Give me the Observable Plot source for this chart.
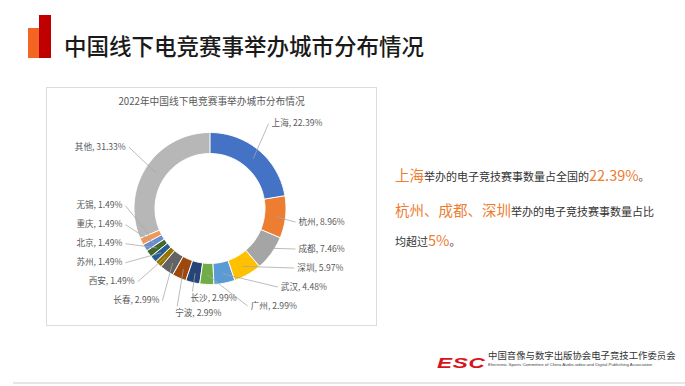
<!DOCTYPE html>
<html><head><meta charset="utf-8">
<script src="https://cdn.jsdelivr.net/npm/d3@7"></script>
<script src="https://cdn.jsdelivr.net/npm/@observablehq/plot@0.6"></script>
<style>
html,body{margin:0;padding:0;background:#fff;}
body{width:685px;height:386px;position:relative;overflow:hidden;font-family:"Noto Sans CJK SC","Noto Sans",sans-serif;}
.abs{position:absolute;white-space:nowrap;}
.o{color:#ED7D31;font-size:14.5px;}
.d{color:#333;font-size:11px;}
.rt{line-height:20px;}
</style></head><body>
<div class="abs" style="left:28px;top:28px;width:12px;height:30px;background:#F26522"></div>
<div class="abs" style="left:39px;top:15px;width:12px;height:43px;background:#C00000"></div>
<div class="abs" id="mainTitle" style="left:64px;top:33px;font-size:22.5px;line-height:24px;color:#1a1a1a;font-weight:500;"></div>

<div class="abs" style="left:46px;top:87px;width:331px;height:239px;border:1px solid #dcdcdc;box-sizing:border-box;"></div>
<div class="abs" id="chartTitle" style="left:47px;top:94px;width:329px;text-align:center;font-size:9.7px;line-height:14px;color:#595959;"></div>
<div class="abs" id="chart" style="left:47px;top:88px;"></div>

<div class="abs rt" id="line1" style="left:395px;top:164px;"></div>
<div class="abs rt" id="line2" style="left:395px;top:199px;"></div>
<div class="abs rt" id="line3" style="left:395px;top:229px;"></div>

<div class="abs" style="left:437px;top:349px;width:48px;height:16px;overflow:visible;">
  <span style="display:inline-block;font-family:'Liberation Sans',sans-serif;font-weight:bold;font-style:italic;font-size:15px;line-height:16px;color:#D7141A;transform:scaleX(1.5);transform-origin:left center;letter-spacing:0.5px;">ESC</span>
</div>
<div class="abs" style="left:488px;top:350px;font-size:9.4px;line-height:11px;color:#333;">中国音像与数字出版协会电子竞技工作委员会</div>
<div class="abs" style="left:488px;top:362px;font-family:'Liberation Sans',sans-serif;font-size:4.4px;line-height:5px;color:#444;">Electronic Sports Committee of China Audio-video and Digital Publishing Association</div>
<div class="abs" style="left:13px;top:382px;width:672px;height:2px;background:#e6e6e6;"></div>

<script>
const mainTitle = "中国线下电竞赛事举办城市分布情况";
const chartTitle = "2022年中国线下电竞赛事举办城市分布情况";
const cities = ["上海","杭州","成都","深圳","武汉","广州","长沙","宁波","长春","西安","苏州","北京","重庆","无锡","其他"];
const shares = [22.39,8.96,7.46,5.97,4.48,2.99,2.99,2.99,2.99,1.49,1.49,1.49,1.49,1.49,31.33];
const colors = ["#4472C4","#ED7D31","#A5A5A5","#FFC000","#5B9BD5","#70AD47","#264478","#9E480E","#636363","#997300","#255E91","#43682B","#698ED0","#F1975A","#B7B7B7"];

document.getElementById("mainTitle").textContent = mainTitle;
document.getElementById("chartTitle").textContent = chartTitle;

// right-hand commentary, values taken from the data arrays
const top1 = 0;
const over5 = cities.map((c,i)=>({c, v:shares[i]})).filter((d,i)=> i>0 && d.c!=="其他" && d.v>5).map(d=>d.c);
document.getElementById("line1").innerHTML =
  `<span class="o">${cities[top1]}</span><span class="d">举办的电子竞技赛事数量占全国的</span><span class="o">${shares[top1].toFixed(2)}%</span><span class="d">。</span>`;
document.getElementById("line2").innerHTML =
  `<span class="o">${over5.join("、")}</span><span class="d">举办的电子竞技赛事数量占比</span>`;
document.getElementById("line3").innerHTML =
  `<span class="d">均超过</span><span class="o">5%</span><span class="d">。</span>`;

// layout constants (pixels relative to donut centre)
const W = 329, H = 237, CX = 163, CY = 120.5;
const R_OUT = 76, R_IN = 55, R_LEAD = 66;

const rows = cities.map((city,i)=>({city, share: shares[i]}));
const arcs = d3.pie().sort(null).value(d=>d.share)(rows);

// ring polygons
const ring = [];
for (const s of arcs) {
  const n = Math.max(2, Math.ceil((s.endAngle - s.startAngle)/0.02));
  for (let i=0;i<=n;i++) {
    const t = s.startAngle + (s.endAngle - s.startAngle)*i/n;
    ring.push({city: s.data.city,
      xo: R_OUT*Math.sin(t), yo: -R_OUT*Math.cos(t),
      xi: R_IN*Math.sin(t),  yi: -R_IN*Math.cos(t)});
  }
}

// label layout
const deg = 180/Math.PI;
const labels = arcs.map(s => {
  const a = (s.startAngle + s.endAngle)/2;
  const A = a*deg;
  const group = A < 185 ? "right" : A < 210 ? "bottom" : "left";
  return {city: s.data.city, share: s.data.share, a, group,
    rx: R_LEAD*Math.sin(a), ry: -R_LEAD*Math.cos(a),
    yraw: 112*(-Math.cos(a))};
});
const RX = 105, XCAP = 88, YMAX = 97, GAP = 19;
for (const side of ["right","left"]) {
  const g = labels.filter(d=>d.group===side).sort((p,q)=>q.yraw-p.yraw);
  let prev = Infinity;
  for (const l of g) {
    l.ly = Math.min(Math.min(l.yraw, YMAX), prev - GAP);
    prev = l.ly;
    const x = Math.min(Math.sqrt(Math.max(RX*RX - l.ly*l.ly, 0)), XCAP);
    l.lx = side==="right" ? x : -x;
    l.ex = side==="right" ? l.lx - 3 : l.lx + 3;
    l.ey = l.ly;
  }
}
{
  const g = labels.filter(d=>d.group==="bottom").sort((p,q)=>p.a-q.a);
  let prev = -Infinity;
  for (const l of g) {
    l.ly = Math.max(92*(-Math.cos(l.a)), prev + 15);
    prev = l.ly;
    l.lx = 86*Math.sin(l.a);
    l.ex = l.lx + 2; l.ey = l.ly - 7;
  }
}
const fmt = d => `${d.city}, ${d.share.toFixed(2)}%`;
const textStyle = {fontSize: 8.6, fill: "#595959"};

const plot = Plot.plot({
  width: W, height: H,
  margin: 0,
  x: {domain: [-CX, W-CX], range: [0, W], axis: null},
  y: {domain: [-CY, H-CY], range: [0, H], axis: null},
  color: {domain: cities, range: colors},
  style: {background: "transparent", fontFamily: "'Noto Sans CJK SC', sans-serif", overflow: "visible"},
  marks: [
    Plot.area(ring, {x1: "xo", y1: "yo", x2: "xi", y2: "yi", z: "city", fill: "city", stroke: "white", strokeWidth: 1}),
    Plot.link(labels, {x1: "rx", y1: "ry", x2: "ex", y2: "ey", stroke: "#a6a6a6", strokeWidth: 0.75}),
    Plot.text(labels.filter(d=>d.group!=="left"), {x: "lx", y: "ly", text: fmt, textAnchor: "start", ...textStyle}),
    Plot.text(labels.filter(d=>d.group==="left"), {x: "lx", y: "ly", text: fmt, textAnchor: "end", ...textStyle})
  ]
});
document.getElementById("chart").appendChild(plot);
</script>
</body></html>
